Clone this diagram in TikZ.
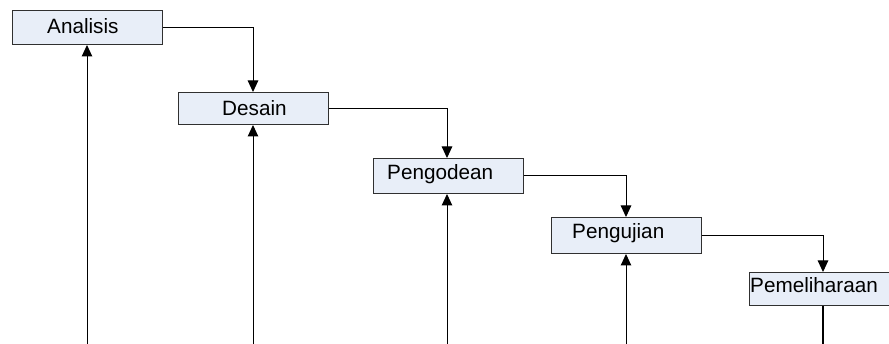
\documentclass[tikz,border=0pt]{standalone}
\usepackage{fontspec}
\setmainfont{Liberation Sans}
\usetikzlibrary{arrows.meta,calc}
\definecolor{boxfill}{HTML}{E8EEF8}
\definecolor{boxline}{HTML}{303030}
\tikzset{
  stage/.style={draw=boxline, fill=boxfill, line width=1pt, minimum width=150pt, inner sep=0pt, anchor=north west},
  lbl/.style={anchor=base west, inner sep=0pt, font=\fontsize{20.7pt}{22pt}\selectfont},
  flow/.style={draw=black, line width=1pt, -{Triangle[length=11.5pt,width=10.5pt]}},
  plain/.style={draw=black, line width=1pt}
}
\begin{document}
\begin{tikzpicture}[x=1pt,y=-1pt]
\useasboundingbox (0,0) rectangle (889,344);
\node[stage, minimum height=34pt] (an) at (12,10) {};
\node[stage, minimum height=32pt] (de) at (178,92) {};
\node[stage, minimum height=35pt] (pg) at (373,158) {};
\node[stage, minimum height=36pt] (pj) at (551,217) {};
\node[stage, minimum height=33pt] (pm) at (749,272) {};
\node[lbl] (tan) at (47,34) {Analisis};
\node[lbl] (tde) at (222,115.5) {Desain};
\node[lbl] (tpg) at (387,179.5) {Pengodean};
\node[lbl] (tpj) at (572,238.5) {Pengujian};
\node[lbl] (tpm) at (750,292.5) {Pemeliharaan};
\coordinate (b1) at (87,344);
\coordinate (b2) at (253,344);
\coordinate (b3) at (447,344);
\coordinate (b4) at (626,344);
\coordinate (b5) at (823,344);
% forward connectors
\draw[flow] (an.east) -| (b2 |- de.north);
\draw[flow] (de.east) -| (b3 |- pg.north);
\draw[flow] (pg.east) -| (b4 |- pj.north);
\draw[flow] (pj.east) -| (b5 |- pm.north);
% feedback lines from bottom
\draw[flow] (b1) -- (b1 |- an.south);
\draw[flow] (b2) -- (b2 |- de.south);
\draw[flow] (b3) -- (b3 |- pg.south);
\draw[flow] (b4) -- (b4 |- pj.south);
\draw[plain, line width=2pt] (b5 |- pm.south) -- (b5);
\end{tikzpicture}
\end{document}
